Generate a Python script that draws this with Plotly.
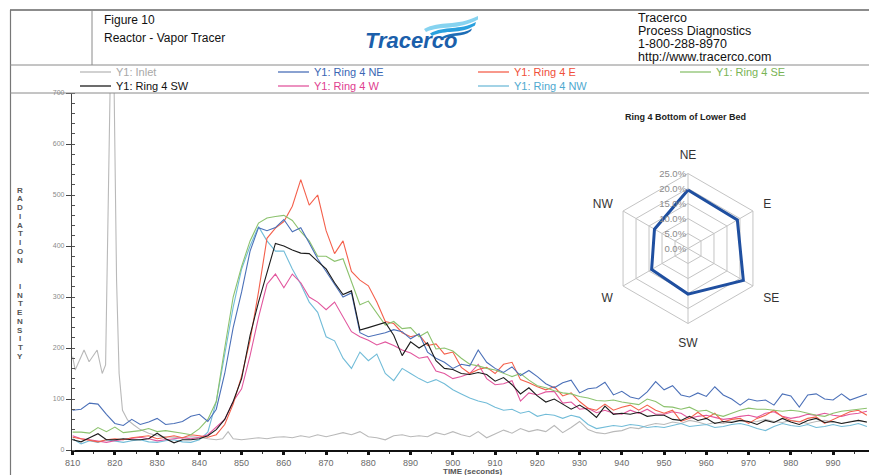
import plotly.graph_objects as go

# ---------------- data ----------------
time = [810, 812, 814, 816, 818, 820, 822, 824, 826, 828,
        830, 832, 834, 836, 838, 840, 842, 844, 846, 848,
        850, 852, 854, 856, 858, 860, 862, 864, 866, 868,
        870, 872, 874, 876, 878, 880, 882, 884, 886, 888,
        890, 892, 894, 896, 898, 900, 902, 904, 906, 908,
        910, 912, 914, 916, 918, 920, 922, 924, 926, 928,
        930, 932, 934, 936, 938, 940, 942, 944, 946, 948,
        950, 952, 954, 956, 958, 960, 962, 964, 966, 968,
        970, 972, 974, 976, 978, 980, 982, 984, 986, 988,
        990, 992, 994, 996, 998]

ring4_ne = [78, 80, 92, 90, 70, 52, 48, 60, 50, 55,
            62, 50, 52, 56, 66, 70, 56, 80, 150, 240,
            310, 390, 436, 430, 436, 452, 428, 436, 406, 375,
            350, 325, 300, 308, 230, 222, 226, 230, 236, 232,
            218, 228, 192, 180, 172, 160, 168, 165, 196, 172,
            160, 152, 163, 146, 156, 144, 130, 122, 132, 137,
            112, 120, 122, 133, 108, 115, 104, 100, 114, 134,
            118, 126, 108, 104, 112, 105, 124, 108, 100, 88,
            100, 96, 98, 88, 110, 106, 84, 108, 110, 100,
            98, 110, 98, 104, 110]

ring4_e = [25, 22, 18, 16, 20, 22, 20, 24, 26, 28,
           22, 25, 28, 24, 30, 28, 25, 30, 50, 90,
           145, 215, 310, 415, 435, 448, 478, 530, 480, 500,
           430, 385, 410, 350, 333, 322, 290, 252, 248, 230,
           222, 226, 205, 208, 188, 192, 162, 150, 158, 162,
           150, 168, 172, 138, 132, 124, 118, 124, 106, 112,
           95, 82, 78, 90, 78, 84, 88, 78, 88, 78,
           72, 78, 56, 62, 74, 62, 72, 55, 60, 62,
           52, 62, 68, 78, 65, 58, 55, 62, 65, 52,
           60, 68, 75, 78, 68]

ring4_se = [35, 35, 33, 44, 36, 45, 34, 36, 38, 42,
            36, 38, 36, 33, 30, 42, 60, 95, 200, 300,
            360, 410, 445, 455, 458, 460, 450, 428, 410, 380,
            380, 370, 375, 330, 285, 292, 268, 245, 252, 238,
            240, 222, 232, 198, 200, 194, 180, 168, 165, 160,
            157, 150, 144, 150, 137, 126, 122, 116, 112, 110,
            105, 102, 97, 96, 98, 94, 91, 89, 100, 95,
            85, 84, 80, 84, 76, 78, 70, 66, 72, 78,
            82, 80, 80, 78, 76, 78, 76, 72, 68, 66,
            72, 76, 78, 80, 82]

ring4_sw = [20, 16, 24, 32, 20, 20, 22, 20, 20, 22,
            33, 22, 14, 20, 20, 22, 28, 40, 60, 95,
            140, 225, 290, 345, 405, 400, 392, 386, 385, 370,
            355, 328, 305, 312, 235, 240, 245, 250, 225, 185,
            212, 200, 210, 175, 160, 158, 150, 148, 152, 148,
            135, 142, 128, 110, 122, 106, 94, 100, 90, 80,
            88, 78, 64, 86, 70, 72, 70, 74, 66, 68,
            68, 60, 58, 66, 58, 62, 52, 56, 54, 58,
            56, 50, 58, 54, 62, 55, 50, 58, 62, 54,
            56, 52, 55, 58, 55]

ring4_w = [28, 22, 20, 18, 15, 18, 20, 22, 25, 22,
           18, 20, 22, 24, 22, 25, 30, 45, 60, 95,
           120, 185, 260, 325, 345, 318, 345, 328, 300, 290,
           275, 290, 262, 232, 222, 215, 206, 212, 205, 196,
           190, 180, 183, 155, 150, 140, 144, 150, 168, 140,
           128, 130, 136, 96, 112, 108, 114, 115, 92, 94,
           80, 82, 73, 78, 72, 70, 78, 72, 80, 70,
           70, 75, 72, 62, 66, 68, 64, 60, 62, 66,
           68, 64, 72, 75, 66, 62, 65, 70, 68, 72,
           68, 66, 70, 72, 76]

ring4_nw = [22, 12, 18, 15, 20, 18, 15, 18, 20, 16,
            15, 18, 20, 16, 15, 20, 35, 95, 185, 280,
            355, 400, 438, 410, 390, 390, 355, 325, 290, 270,
            222, 214, 180, 160, 192, 175, 188, 150, 136, 160,
            150, 140, 132, 138, 130, 118, 110, 102, 96, 92,
            84, 78, 80, 72, 76, 66, 70, 68, 62, 68,
            64, 50, 42, 45, 48, 46, 50, 48, 44, 46,
            44, 48, 52, 46, 48, 50, 44, 46, 50, 52,
            48, 42, 38, 46, 52, 48, 46, 50, 44, 46,
            50, 46, 48, 52, 46]

inlet_time = [810, 810.6, 812.7, 813.9, 815.8, 817, 817.8, 819.4, 820.4, 821,
              821.8, 823, 824.5, 826, 828, 830, 832, 834, 836, 838,
              840, 842, 844, 845.5, 846.8, 848, 850, 852, 854, 856,
              858, 860, 862, 864, 866, 868, 870, 872, 874, 876,
              878, 880, 882, 884, 886, 888, 890, 892, 894, 896,
              898, 900, 902, 904, 906, 908, 910, 912, 914, 916,
              918, 920, 922, 924, 926, 928, 930, 932, 934, 936,
              938, 940, 942, 944, 946, 948, 950, 952, 954, 956,
              958, 960, 962, 964, 966, 968, 970, 972, 974, 976,
              978, 980, 982, 984, 986, 988, 990, 992, 994, 996,
              998]
inlet = [183, 157, 196, 173, 196, 150, 167, 980, 333, 150,
         78, 59, 49, 40, 33, 28, 26, 25, 24, 26,
         25, 22, 20, 22, 36, 22, 20, 22, 24, 22,
         25, 26, 24, 28, 25, 30, 26, 30, 34, 30,
         36, 26, 24, 20, 28, 30, 26, 28, 26, 34,
         30, 36, 30, 26, 36, 24, 32, 39, 33, 42,
         36, 40, 36, 48, 34, 44, 56, 40, 34, 32,
         36, 38, 44, 42, 48, 52, 50, 55, 52, 58,
         55, 50, 54, 52, 56, 58, 54, 56, 60, 56,
         54, 58, 56, 52, 56, 58, 55, 52, 56, 58,
         54]

radar_dirs = ["NE", "E", "SE", "SW", "W", "NW"]
radar_pct = [19.5, 19.0, 21.3, 15.2, 14.0, 12.9]
radar_ticks = [0, 5, 10, 15, 20, 25]

x_ticks = [810, 820, 830, 840, 850, 860, 870, 880, 890, 900,
           910, 920, 930, 940, 950, 960, 970, 980, 990, 1000]
y_ticks = [0, 100, 200, 300, 400, 500, 600, 700]

series = [
    ("Y1: Inlet", inlet_time, inlet, "#b9b9b9", "#a8a8a8"),
    ("Y1: Ring 4 NW", time, ring4_nw, "#72bcd8", "#4fa9cf"),
    ("Y1: Ring 4 W", time, ring4_w, "#e2579e", "#e0408f"),
    ("Y1: Ring 4 E", time, ring4_e, "#f4604c", "#f0503a"),
    ("Y1: Ring 4 SE", time, ring4_se, "#8cc26e", "#79b455"),
    ("Y1: Ring 4 NE", time, ring4_ne, "#4b70b8", "#3a66b4"),
    ("Y1: Ring 4 SW", time, ring4_sw, "#1c1c1c", "#111111"),
]
for _, tt, vv, _, _ in series:
    assert len(tt) == len(vv), (len(tt), len(vv))

# ---------------- geometry helpers ----------------
W, H = 869, 475
L, R, T, B = 72, 0, 93, 25
PW = W - L - R
PH = H - T - B
FONT = "Liberation Sans, Arial, sans-serif"


def px(x):
    return (x - L) / PW


def py(y):
    return (H - B - y) / PH


def hline(x0, x1, y, color="#8a8a8a", width=1):
    return dict(type="line", xref="paper", yref="paper", x0=px(x0), x1=px(x1),
                y0=py(y), y1=py(y), line=dict(color=color, width=width), layer="above")


def vline(x, y0, y1, color="#8a8a8a", width=1):
    return dict(type="line", xref="paper", yref="paper", x0=px(x), x1=px(x),
                y0=py(y0), y1=py(y1), line=dict(color=color, width=width), layer="above")


def path_px(cmds):
    out = []
    for c in cmds:
        op, nums = c[0], c[1:]
        pts = []
        for i in range(0, len(nums), 2):
            pts.append("%.5f,%.5f" % (px(nums[i]), py(nums[i + 1])))
        out.append(op + " " + " ".join(pts) if pts else op)
    return " ".join(out)


fig = go.Figure()

for name, tt, vv, col, _ in series:
    fig.add_trace(go.Scatter(x=tt, y=vv, mode="lines", name=name,
                             line=dict(color=col, width=1.1), showlegend=False,
                             hoverinfo="skip"))

fig.add_trace(go.Scatterpolar(r=radar_pct + radar_pct[:1], theta=radar_dirs + radar_dirs[:1],
                              mode="lines", line=dict(color="#1f4fa0", width=3),
                              subplot="polar", showlegend=False, hoverinfo="skip"))

shapes = []
# frame / header
shapes.append(hline(10, 869, 10, color="#666666", width=1.5))
shapes.append(vline(10.5, 10, 475, color="#777777", width=1.2))
shapes.append(vline(92, 10, 65, color="#8a8a8a", width=1))
shapes.append(hline(10, 869, 65, color="#8a8a8a", width=1))
shapes.append(hline(10, 869, 93, color="#8a8a8a", width=1))

# logo waves
shapes.append(dict(type="path", xref="paper", yref="paper", layer="above",
                   path=path_px([("M", 424, 29), ("C", 440, 20, 456, 27, 478, 16),
                                 ("L", 478, 19.5), ("C", 457, 31, 441, 25, 426, 32), ("Z",)]),
                   fillcolor="#86d3f0", line=dict(width=0)))
shapes.append(dict(type="path", xref="paper", yref="paper", layer="above",
                   path=path_px([("M", 430, 33.5), ("C", 445, 25, 459, 31, 476, 22),
                                 ("L", 475, 25.5), ("C", 459, 35, 446, 29, 432, 36), ("Z",)]),
                   fillcolor="#2aa0de", line=dict(width=0)))
shapes.append(dict(type="path", xref="paper", yref="paper", layer="above",
                   path=path_px([("M", 441, 37.5), ("C", 452, 31, 462, 35, 472, 28.5),
                                 ("L", 471, 31), ("C", 462, 38, 452, 34, 443, 39), ("Z",)]),
                   fillcolor="#1d6db6", line=dict(width=0)))

annotations = []


def text(x, y, s, size=12, color="#111", xanchor="left", bold=False, font=FONT):
    annotations.append(dict(xref="paper", yref="paper", x=px(x), y=py(y), text=s,
                            showarrow=False, xanchor=xanchor, yanchor="middle",
                            font=dict(family=font, size=size, color=color,
                                      weight="bold" if bold else "normal")))


text(102, 20, "Figure 10", 12)
text(102, 38, "Reactor - Vapor Tracer", 12)
text(636, 18, "Tracerco", 12.5)
text(636, 31, "Process Diagnostics", 12.5)
text(636, 44, "1-800-288-8970", 12.5)
text(636, 57, "http://www.tracerco.com", 12.5)
annotations.append(dict(xref="paper", yref="paper", x=px(411), y=py(40), text="<b><i>Tracerco</i></b>",
                        showarrow=False, xanchor="center", yanchor="middle",
                        font=dict(family=FONT, size=22, color="#1b5fab")))

# manual legend
legend_layout = {
    "Y1: Inlet": (80, 72), "Y1: Ring 4 NE": (278, 72), "Y1: Ring 4 E": (478, 72),
    "Y1: Ring 4 SE": (680, 72), "Y1: Ring 4 SW": (80, 86), "Y1: Ring 4 W": (278, 86),
    "Y1: Ring 4 NW": (478, 86),
}
for name, tt, vv, col, tcol in series:
    x0, yy = legend_layout[name]
    shapes.append(hline(x0, x0 + 31, yy, color=col, width=1.3))
    text(x0 + 34, yy, name, 11, tcol)

# axis titles
for i, ch in enumerate("RADIATION  INTENSITY"):
    if ch != " ":
        text(20, 190 + 8.75 * i, ch, 8, "#555", xanchor="center", bold=True)
text(472, 471.5, "TIME (seconds)", 8, "#555", xanchor="center", bold=True)

# radar title
text(685, 117, "Ring 4 Bottom of Lower Bed", 9, "#222", xanchor="center", bold=True)

fig.update_layout(
    width=W, height=H,
    margin=dict(l=L, r=R, t=T, b=B),
    paper_bgcolor="white", plot_bgcolor="white",
    font=dict(family=FONT),
    showlegend=False,
    shapes=shapes,
    annotations=annotations,
    xaxis=dict(range=[809.85, 998.5], tickvals=x_ticks, ticks="outside", ticklen=3,
               tickwidth=2.5, tickcolor="#111", showline=True, linecolor="#111",
               linewidth=1.5, showgrid=False, zeroline=False,
               tickfont=dict(size=9, color="#6a6a6a", family=FONT),
               minor=dict(dtick=5, ticks="outside", ticklen=2, tickwidth=1, tickcolor="#333")),
    yaxis=dict(range=[0, 700], tickvals=y_ticks, ticks="outside", ticklen=5,
               tickwidth=1, tickcolor="#444", showline=True, linecolor="#444",
               linewidth=1.2, showgrid=False, zeroline=False,
               tickfont=dict(size=7, color="#8a8a8a", family=FONT),
               minor=dict(dtick=20, ticks="inside", ticklen=3, tickwidth=1, tickcolor="#555")),
    polar=dict(
        domain=dict(x=[px(613), px(763)], y=[py(323.5), py(173.5)]),
        bgcolor="rgba(0,0,0,0)",
        gridshape="linear",
        angularaxis=dict(direction="clockwise", rotation=90, categoryorder="array",
                         categoryarray=radar_dirs, showline=True, linecolor="#c4c4c4",
                         gridcolor="#c4c4c4", ticks="outside", ticklen=9,
                         tickcolor="rgba(0,0,0,0)",
                         tickfont=dict(size=12, color="#333", family=FONT)),
        radialaxis=dict(range=[0, 25], tickvals=radar_ticks,
                        ticktext=["%.1f%%" % v for v in radar_ticks],
                        angle=90, tickangle=90, side="counterclockwise",
                        showline=False, ticks="", gridcolor="#c4c4c4",
                        tickfont=dict(size=9.5, color="#8a8a8a", family=FONT)),
    ),
)

fig.write_html("out.html", config={"displayModeBar": False},
               post_script="document.body.style.margin='0px';document.body.style.overflow='hidden';")
